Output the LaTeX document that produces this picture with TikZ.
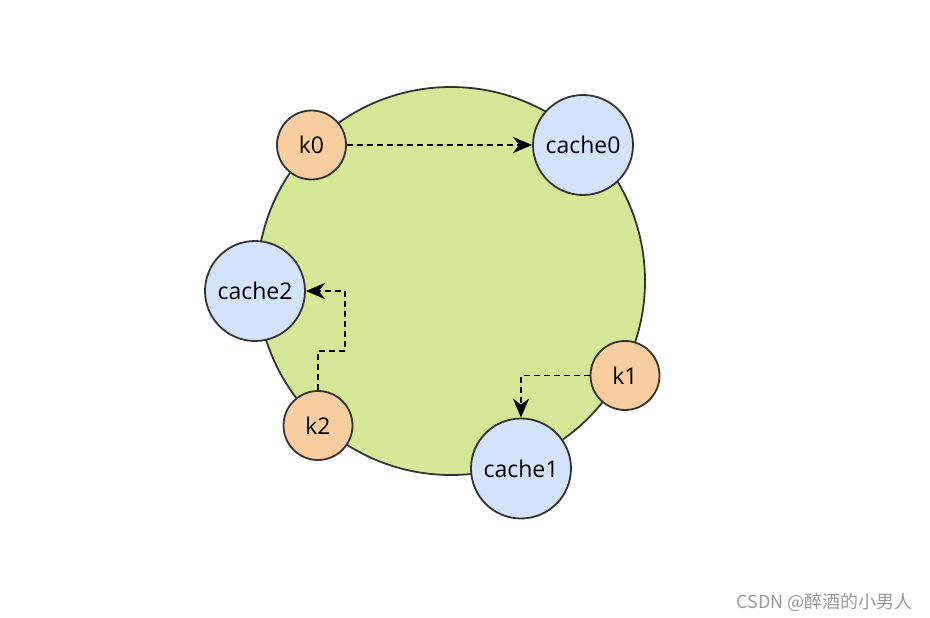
\documentclass[tikz,border=0pt]{standalone}
\usepackage{fontspec}
\setmainfont{Open Sans}
\newfontfamily\cjkfont{Noto Sans CJK SC}
\usetikzlibrary{arrows.meta}

\definecolor{ringgreen}{RGB}{213,232,151}
\definecolor{keyorange}{RGB}{248,205,160}
\definecolor{cacheblue}{RGB}{212,227,252}
\definecolor{edgegray}{RGB}{51,51,51}

\begin{document}
\begin{tikzpicture}[x=1pt, y=-1pt,
        ring/.style={circle, draw=edgegray, line width=1.8pt, fill=ringgreen, minimum size=388pt, inner sep=0pt},
        keynode/.style={circle, draw=edgegray, line width=1.8pt, fill=keyorange, minimum size=69pt, inner sep=0pt, font=\fontsize{23}{26}\selectfont},
        cachenode/.style={circle, draw=edgegray, line width=1.8pt, fill=cacheblue, minimum size=100pt, inner sep=0pt, font=\fontsize{23}{26}\selectfont},
        flow/.style={-{Stealth[length=19pt, width=16pt, inset=6pt]}, dashed, dash pattern=on 6pt off 4pt, line width=1.8pt}]

        \useasboundingbox (0,0) rectangle (930,618);

        % ring
        \node[ring] (hash) at (451,281) {};

        % cache nodes
        \node[cachenode] (cache0) at (583,145) {cache0};
        \node[cachenode] (cache1) at (521,468.5) {cache1};
        \node[cachenode] (cache2) at (255,291) {cache2};

        % key nodes
        \node[keynode] (k0) at (311.5,145) {k0};
        \node[keynode] (k1) at (625,375.5) {k1};
        \node[keynode] (k2) at (318,425.5) {k2};

        % k0 -> cache0
        \draw[flow] (k0) -- (cache0);

        % k1 -> cache1
        \draw[flow] (k1.west) -| (cache1.north);

        % k2 -> cache2
        \coordinate (bend) at (345,351);
        \draw[flow] (k2.north) |- (bend) |- (cache2.east);

        % watermark
        \node[anchor=base east, text=black!40, font=\cjkfont\fontsize{18}{20}\selectfont] (mark) at (916,608) {CSDN @醉酒的小男人};

\end{tikzpicture}
\end{document}
